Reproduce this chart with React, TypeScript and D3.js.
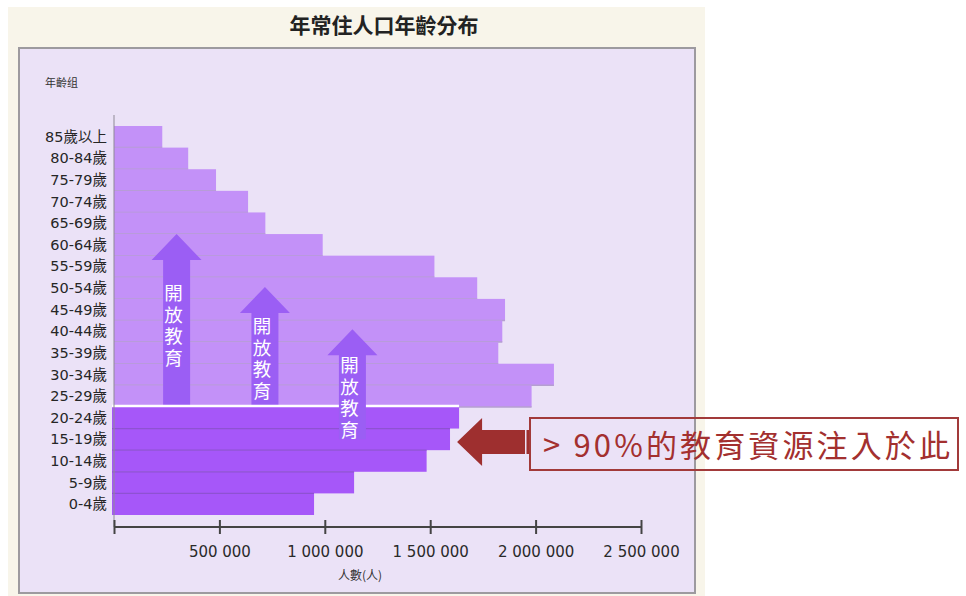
import { useEffect, useRef } from 'react';
import * as d3 from 'd3';

// age groups, top to bottom
const ageGroups = [
    '85歲以上', '80-84歲', '75-79歲', '70-74歲', '65-69歲', '60-64歲',
    '55-59歲', '50-54歲', '45-49歲', '40-44歲', '35-39歲', '30-34歲',
    '25-29歲', '20-24歲', '15-19歲', '10-14歲', '5-9歲', '0-4歲',
];
// population (persons)
const population = [
    229000, 352000, 484000, 636000, 718000, 990000,
    1520000, 1723000, 1855000, 1842000, 1823000, 2087000,
    1981000, 1637000, 1594000, 1483000, 1139000, 949000,
];
// groups that get the education resources
const schoolAges = ['20-24歲', '15-19歲', '10-14歲', '5-9歲', '0-4歲'];
const xTicks = [0, 500000, 1000000, 1500000, 2000000, 2500000];

// "開放教育" arrows: centre (persons), head top (band index), shaft end (band index)
const arrowX = [297000, 716000, 1131000];
const arrowTop = [5, 7.45, 9.4];
const arrowEnd = [13, 13, 14.5];

const W = 966;
const H = 596;
const cjk = '"Noto Sans CJK TC", "Noto Sans", sans-serif';

export default function App() {
    const axisRef = useRef<SVGGElement>(null);

    const x = d3.scaleLinear().domain([0, 2500000]).range([114, 641]);
    const y = d3.scaleBand<string>().domain(ageGroups).range([126, 515]).padding(0);
    const bw = y.bandwidth();
    const yAt = (i: number) => 126 + i * bw;

    const fmt = d3.formatLocale({ decimal: '.', thousands: ' ', grouping: [3], currency: ['', ''] }).format(',');

    useEffect(() => {
        const g = d3.select(axisRef.current!);
        g.selectAll('*').remove();
        g.call(
            d3.axisBottom(x)
                .tickValues(xTicks)
                .tickSize(7)
                .tickPadding(12)
                .tickFormat((d) => (+d === 0 ? '' : fmt(+d)))
        );
        g.select('.domain').attr('stroke', '#444').attr('stroke-width', 2).attr('d', `M${x(0)},0H${x(2500000)}`);
        g.selectAll('.tick line').attr('stroke', '#444').attr('stroke-width', 2).attr('y1', -7).attr('y2', 7);
        g.selectAll('.tick text')
            .attr('fill', '#2a2a2a')
            .attr('font-size', 15)
            .attr('font-family', '"DejaVu Sans", sans-serif');
    }, []);

    const rows = ageGroups.map((a, i) => ({ age: a, value: population[i], school: schoolAges.includes(a) }));
    const upper = rows.filter((r) => !r.school);
    const lower = rows.filter((r) => r.school);

    const arrow = (k: number) => {
        const cx = x(arrowX[k]);
        const top = yAt(arrowTop[k]);
        const headH = 26;
        const headW = 25;
        const shaftW = 13.5;
        const bottom = yAt(arrowEnd[k]);
        const pts = [
            [cx, top],
            [cx + headW, top + headH],
            [cx + shaftW, top + headH],
            [cx + shaftW, bottom],
            [cx - shaftW, bottom],
            [cx - shaftW, top + headH],
            [cx - headW, top + headH],
        ];
        const textTop = top + headH + [24, 4, 1][k];
        return (
            <g key={k}>
                <polygon points={pts.map((p) => p.join(',')).join(' ')} fill="#9b5ef4" />
                <text x={cx - 3} y={textTop} fontSize={18.5} fill="#ffffff" fontFamily={cjk}
                    style={{ writingMode: 'vertical-rl', letterSpacing: '3px' }}>開放教育</text>
            </g>
        );
    };

    return (
        <div style={{ position: 'fixed', left: 0, top: 0 }}>
            <svg width={W} height={H} style={{ display: 'block', background: '#ffffff' }}>
                <rect x={8} y={7} width={697} height={H - 7} fill="#f8f5ea" />
                <text x={384} y={33} textAnchor="middle" fontSize={21} fontWeight="bold" fill="#222"
                    fontFamily={cjk}>年常住人口年齡分布</text>
                <rect x={19} y={48} width={676} height={545} fill="#ebe2f7" stroke="#9d9a9f" strokeWidth={2} />
                <text x={45} y={87} fontSize={11} fill="#333" fontFamily={cjk}>年齡组</text>

                {/* upper age groups */}
                {upper.map((r) => (
                    <g key={r.age}>
                        <rect x={x(0)} y={y(r.age)!} width={x(r.value) - x(0)} height={bw} fill="#c391f8" />
                        <line x1={x(0)} x2={x(r.value)} y1={y(r.age)! + bw} y2={y(r.age)! + bw}
                            stroke="#b59fd0" strokeWidth={1.5} />
                    </g>
                ))}

                {arrow(0)}
                {arrow(1)}

                {/* school age groups */}
                {lower.map((r, i) => (
                    <g key={r.age}>
                        <rect x={x(0) - 2} y={y(r.age)!} width={x(r.value) - x(0) + 2} height={bw} fill="#a657f9" />
                        {i > 0 && (
                            <line x1={x(0) - 2} x2={x(r.value)} y1={y(r.age)!} y2={y(r.age)!}
                                stroke="#8e52d2" strokeWidth={1.2} />
                        )}
                    </g>
                ))}
                <line x1={x(0) - 2} x2={x(lower[0].value)} y1={y(lower[0].age)! - 1} y2={y(lower[0].age)! - 1}
                    stroke="#ffffff" strokeWidth={2.5} />

                {arrow(2)}

                {/* y axis */}
                <line x1={x(0)} x2={x(0)} y1={115} y2={527} stroke="#8f8a96" strokeWidth={1} />
                {ageGroups.map((a) => (
                    <text key={a} x={107} y={y(a)! + bw / 2 + 5} textAnchor="end" fontSize={14.5} fill="#262626"
                        fontFamily={'"DejaVu Sans", "Noto Sans CJK TC", sans-serif'}>{a}</text>
                ))}

                <g ref={axisRef} transform="translate(0,527)" />
                <text x={360} y={580} textAnchor="middle" fontSize={12} fill="#333" fontFamily={cjk}>人數(人)</text>

                {/* callout */}
                <polygon
                    points={`${x(1637000) - 2},442 ${x(1637000) + 23},418 ${x(1637000) + 23},430 525,430 525,454 ${x(1637000) + 23},454 ${x(1637000) + 23},466`}
                    fill="#9e2f2f"
                />
                <rect x={526.5} y={430} width={2.5} height={24} fill="#9e2f2f" />
                <rect x={530} y={418} width={428} height={52} fill="none" stroke="#a23a3a" strokeWidth={2} />
                <text x={543} y={457} fontSize={31} fill="#a3302f" fontFamily={cjk} textLength={407}
                    lengthAdjust="spacing">&gt; 90%的教育資源注入於此</text>
            </svg>
        </div>
    );
}
